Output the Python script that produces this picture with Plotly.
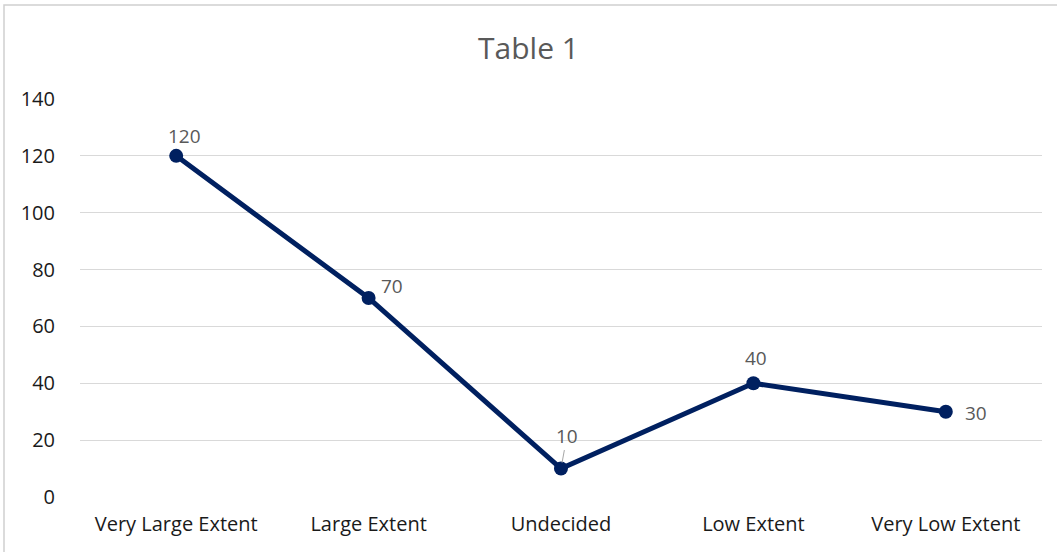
import plotly.graph_objects as go

categories = ["Very Large Extent", "Large Extent", "Undecided", "Low Extent", "Very Low Extent"]
values = [120, 70, 10, 40, 30]
y_ticks = [0, 20, 40, 60, 80, 100, 120, 140]

# pixel offsets of each data label from its point
label_dx = [8, 23, 6, 3, 30]
label_dy = [20, 12, 33, 25, -1]
leader = [False, False, True, False, False]

FONT = "Open Sans"
NAVY = "#002060"
GRID = "#d9d9d9"
TICK_COLOR = "#1a1a1a"

fig = go.Figure()
fig.add_trace(go.Scatter(
    x=categories, y=values, mode="lines+markers",
    line=dict(color=NAVY, width=5),
    marker=dict(color=NAVY, size=14),
    hoverinfo="x+y", showlegend=False,
))

for cat, val, dx, dy, ld in zip(categories, values, label_dx, label_dy, leader):
    if ld:
        fig.add_annotation(
            x=cat, y=val, text=str(val), showarrow=True,
            ax=dx, ay=-dy, arrowhead=0, arrowwidth=1, arrowcolor="#a6a6a6",
            standoff=6, font=dict(family=FONT, size=19, color="#595959"),
        )
    else:
        fig.add_annotation(
            x=cat, y=val, text=str(val), showarrow=False,
            xshift=dx, yshift=dy,
            font=dict(family=FONT, size=19, color="#595959"),
        )

# chart-area border (right and bottom edges run past the page)
fig.add_shape(type="rect", xref="paper", yref="paper",
              x0=-0.079, x1=1.1, y0=-0.3, y1=1.236,
              line=dict(color="#d0d0d0", width=1.5), layer="below")

fig.update_layout(
    width=1057, height=552,
    margin=dict(l=80, r=15, t=99, b=55),
    paper_bgcolor="white", plot_bgcolor="white",
    title=dict(text="Table 1", x=0.5, xanchor="center", y=1 - 48 / 552, yanchor="middle",
               font=dict(family=FONT, size=30, color="#595959")),
    font=dict(family=FONT, size=20, color=TICK_COLOR),
    xaxis=dict(
        showgrid=False, zeroline=False, showline=False,
        ticks="outside", ticklen=9, tickcolor="rgba(0,0,0,0)",
        tickfont=dict(family=FONT, size=20, color=TICK_COLOR),
        range=[-0.5, 4.5],
    ),
    yaxis=dict(
        range=[0, 140], tickvals=y_ticks, showgrid=True, gridcolor=GRID, gridwidth=1.3,
        zeroline=False, showline=False,
        ticks="outside", ticklen=20, tickcolor="rgba(0,0,0,0)",
        tickfont=dict(family=FONT, size=20, color=TICK_COLOR),
    ),
)

fig.write_html("out.html")
